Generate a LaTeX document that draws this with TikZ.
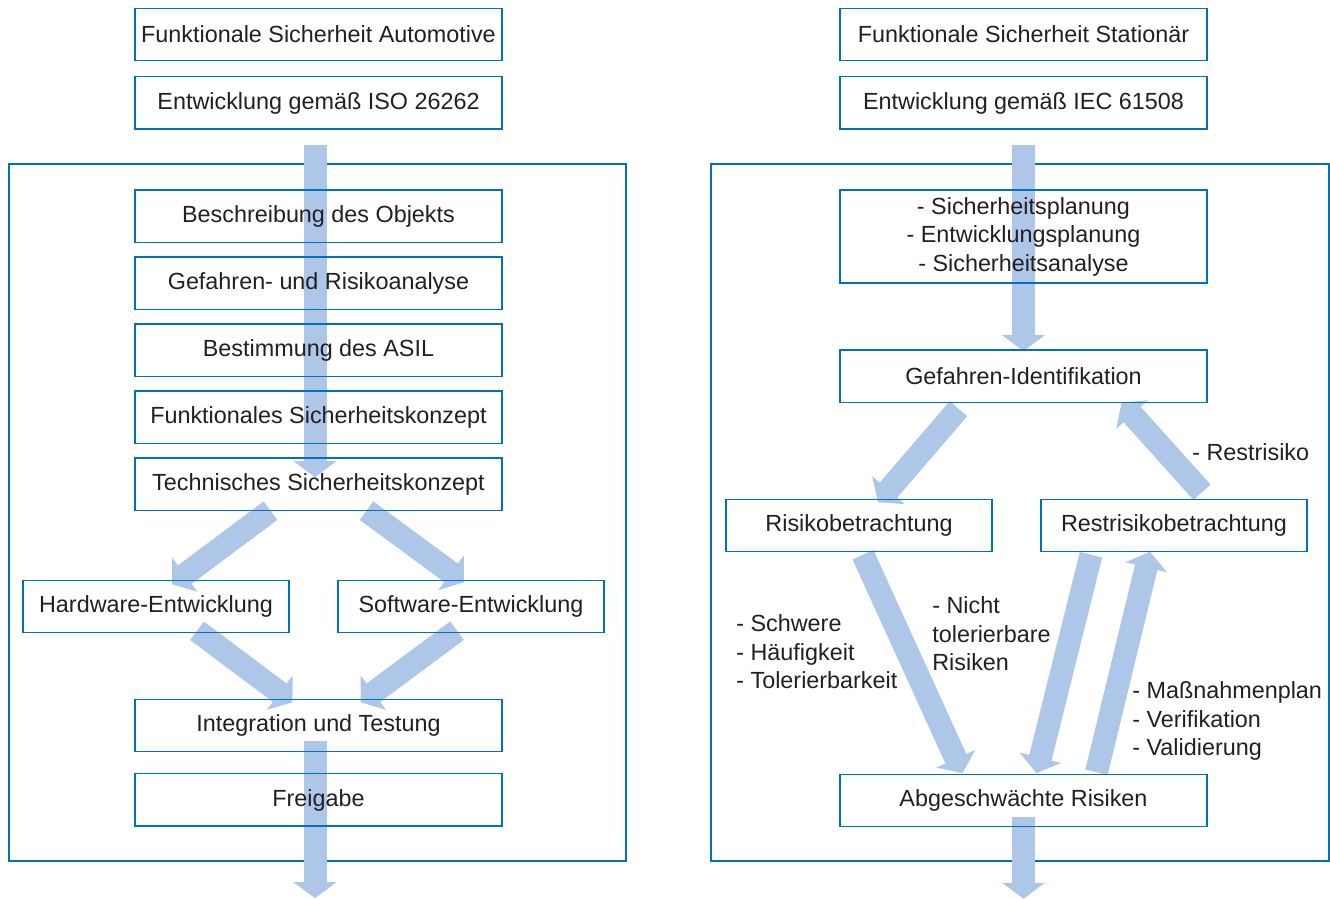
\documentclass[tikz,border=0pt]{standalone}
\usepackage{fontspec}
\setmainfont{Liberation Sans}
\usepackage{tikz}
\usetikzlibrary{positioning,calc,arrows.meta,backgrounds}

\definecolor{boxblue}{RGB}{0,114,188}
\definecolor{arrowblue}{RGB}{174,198,232}
\definecolor{textgray}{RGB}{35,31,32}

\begin{document}
\begin{tikzpicture}[
			x=0.02cm, y=-0.02cm,
			node distance=0.29cm,
			font=\fontsize{13.3}{16.2}\selectfont,
			text=textgray,
			stepbox/.style={rectangle, draw=boxblue, line width=0.85pt, minimum width=7.34cm, minimum height=1.05cm, inner sep=0pt, outer sep=0pt, align=center},
			smallbox/.style={stepbox, minimum width=5.32cm},
			frame/.style={draw=boxblue, line width=1.7pt},
			fatarrow/.style={draw=arrowblue, line width=0.46cm, -{Triangle[width=0.84cm,length=0.32cm]}},
			note/.style={anchor=west, align=left, inner sep=0pt}
	]
	\useasboundingbox (0,0) rectangle (1330,899);

		% Automotive
		\node[stepbox] (autom) at (318.5,34.5) {Funktionale Sicherheit Automotive};
		\node[stepbox, below=0.32cm of autom] (iso) {Entwicklung gemäß ISO 26262};
		\node[stepbox, below=1.22cm of iso] (objekt) {Beschreibung des Objekts};
		\node[stepbox, below=of objekt] (gefahr) {Gefahren- und Risikoanalyse};
		\node[stepbox, below=of gefahr] (asil) {Bestimmung des ASIL};
		\node[stepbox, below=of asil] (funk) {Funktionales Sicherheitskonzept};
		\node[stepbox, below=of funk] (tech) {Technisches Sicherheitskonzept};
		\node[smallbox] (hw) at (156,606.5) {Hardware-Entwicklung};
		\node[smallbox] (sw) at (471,606.5) {Software-Entwicklung};
		\node[stepbox] (integ) at (318.5,725.5) {Integration und Testung};
		\node[stepbox, below=0.44cm of integ] (freigabe) {Freigabe};
		\coordinate (outL) at ($(freigabe.south)+(-3.5,72)$);

		% Stationaer
		\node[stepbox] (station) at (1023.5,34.5) {Funktionale Sicherheit Stationär};
		\node[stepbox, below=0.32cm of station] (iec) {Entwicklung gemäß IEC 61508};
		\node[stepbox, minimum height=1.86cm, below=1.22cm of iec] (planung) {- Sicherheitsplanung\\- Entwicklungsplanung\\- Sicherheitsanalyse};
		\node[stepbox, below=1.34cm of planung] (ident) {Gefahren-Identifikation};
		\node[smallbox] (risiko) at (859,525.5) {Risikobetrachtung};
		\node[smallbox] (rest) at (1174,525.5) {Restrisikobetrachtung};
		\node[stepbox] (abgesch) at (1023.5,800.5) {Abgeschwächte Risiken};
		\coordinate (outR) at ($(abgesch.south)+(0,72)$);

		\node[note] (restlabel) at (1192,452) {- Restrisiko};
		\node[note] (schwere) at (736,652) {- Schwere\\- Häufigkeit\\- Tolerierbarkeit};
		\node[note] (nicht) at (932,634) {- Nicht\\tolerierbare\\Risiken};
		\node[note] (massnahmen) at (1132,721) {- Maßnahmenplan\\- Verifikation\\- Validierung};

		\begin{pgfonlayer}{background}
		\draw[frame] (9,164) rectangle (626,861);
		\draw[frame] (711,164) rectangle (1329,861);

		\draw[fatarrow] ($(iso.south)+(-3.5,16)$) -- ($(tech.north)+(-3.5,19)$);
		\draw[fatarrow] ($(tech.south)+(-48,0)$) -- ($(hw.north)+(16,4)$);
		\draw[fatarrow] ($(tech.south)+(48,0)$) -- ($(sw.north)+(-7,2)$);
		\draw[fatarrow] ($(hw.south)+(41,-2)$) -- ($(integ.north)+(-26,3)$);
		\draw[fatarrow] ($(sw.south)+(-14,-2)$) -- ($(integ.north)+(42,3)$);
		\draw[fatarrow] ($(integ.south)+(-3.5,-11)$) -- (outL);

		\draw[fatarrow] ($(iec.south)+(0,16)$) -- ($(ident.north)+(0,1)$);
		\draw[fatarrow] ($(ident.south)+(-65,6)$) -- ($(risiko.north)+(19,3)$);
		\draw[fatarrow] ($(rest.north)+(28,-7)$) -- ($(ident.south)+(98,0)$);
		\draw[fatarrow] ($(risiko.south)+(4,3)$) -- ($(abgesch.north)+(-61,-1)$);
		\draw[fatarrow] ($(rest.south)+(-83,3)$) -- ($(abgesch.north)+(13,-1)$);
		\draw[fatarrow] ($(abgesch.north)+(73,-2)$) -- ($(rest.south)+(-24,0)$);
		\draw[fatarrow] ($(abgesch.south)+(0,-10)$) -- (outR);
		\end{pgfonlayer}
	\end{tikzpicture}
\end{document}
